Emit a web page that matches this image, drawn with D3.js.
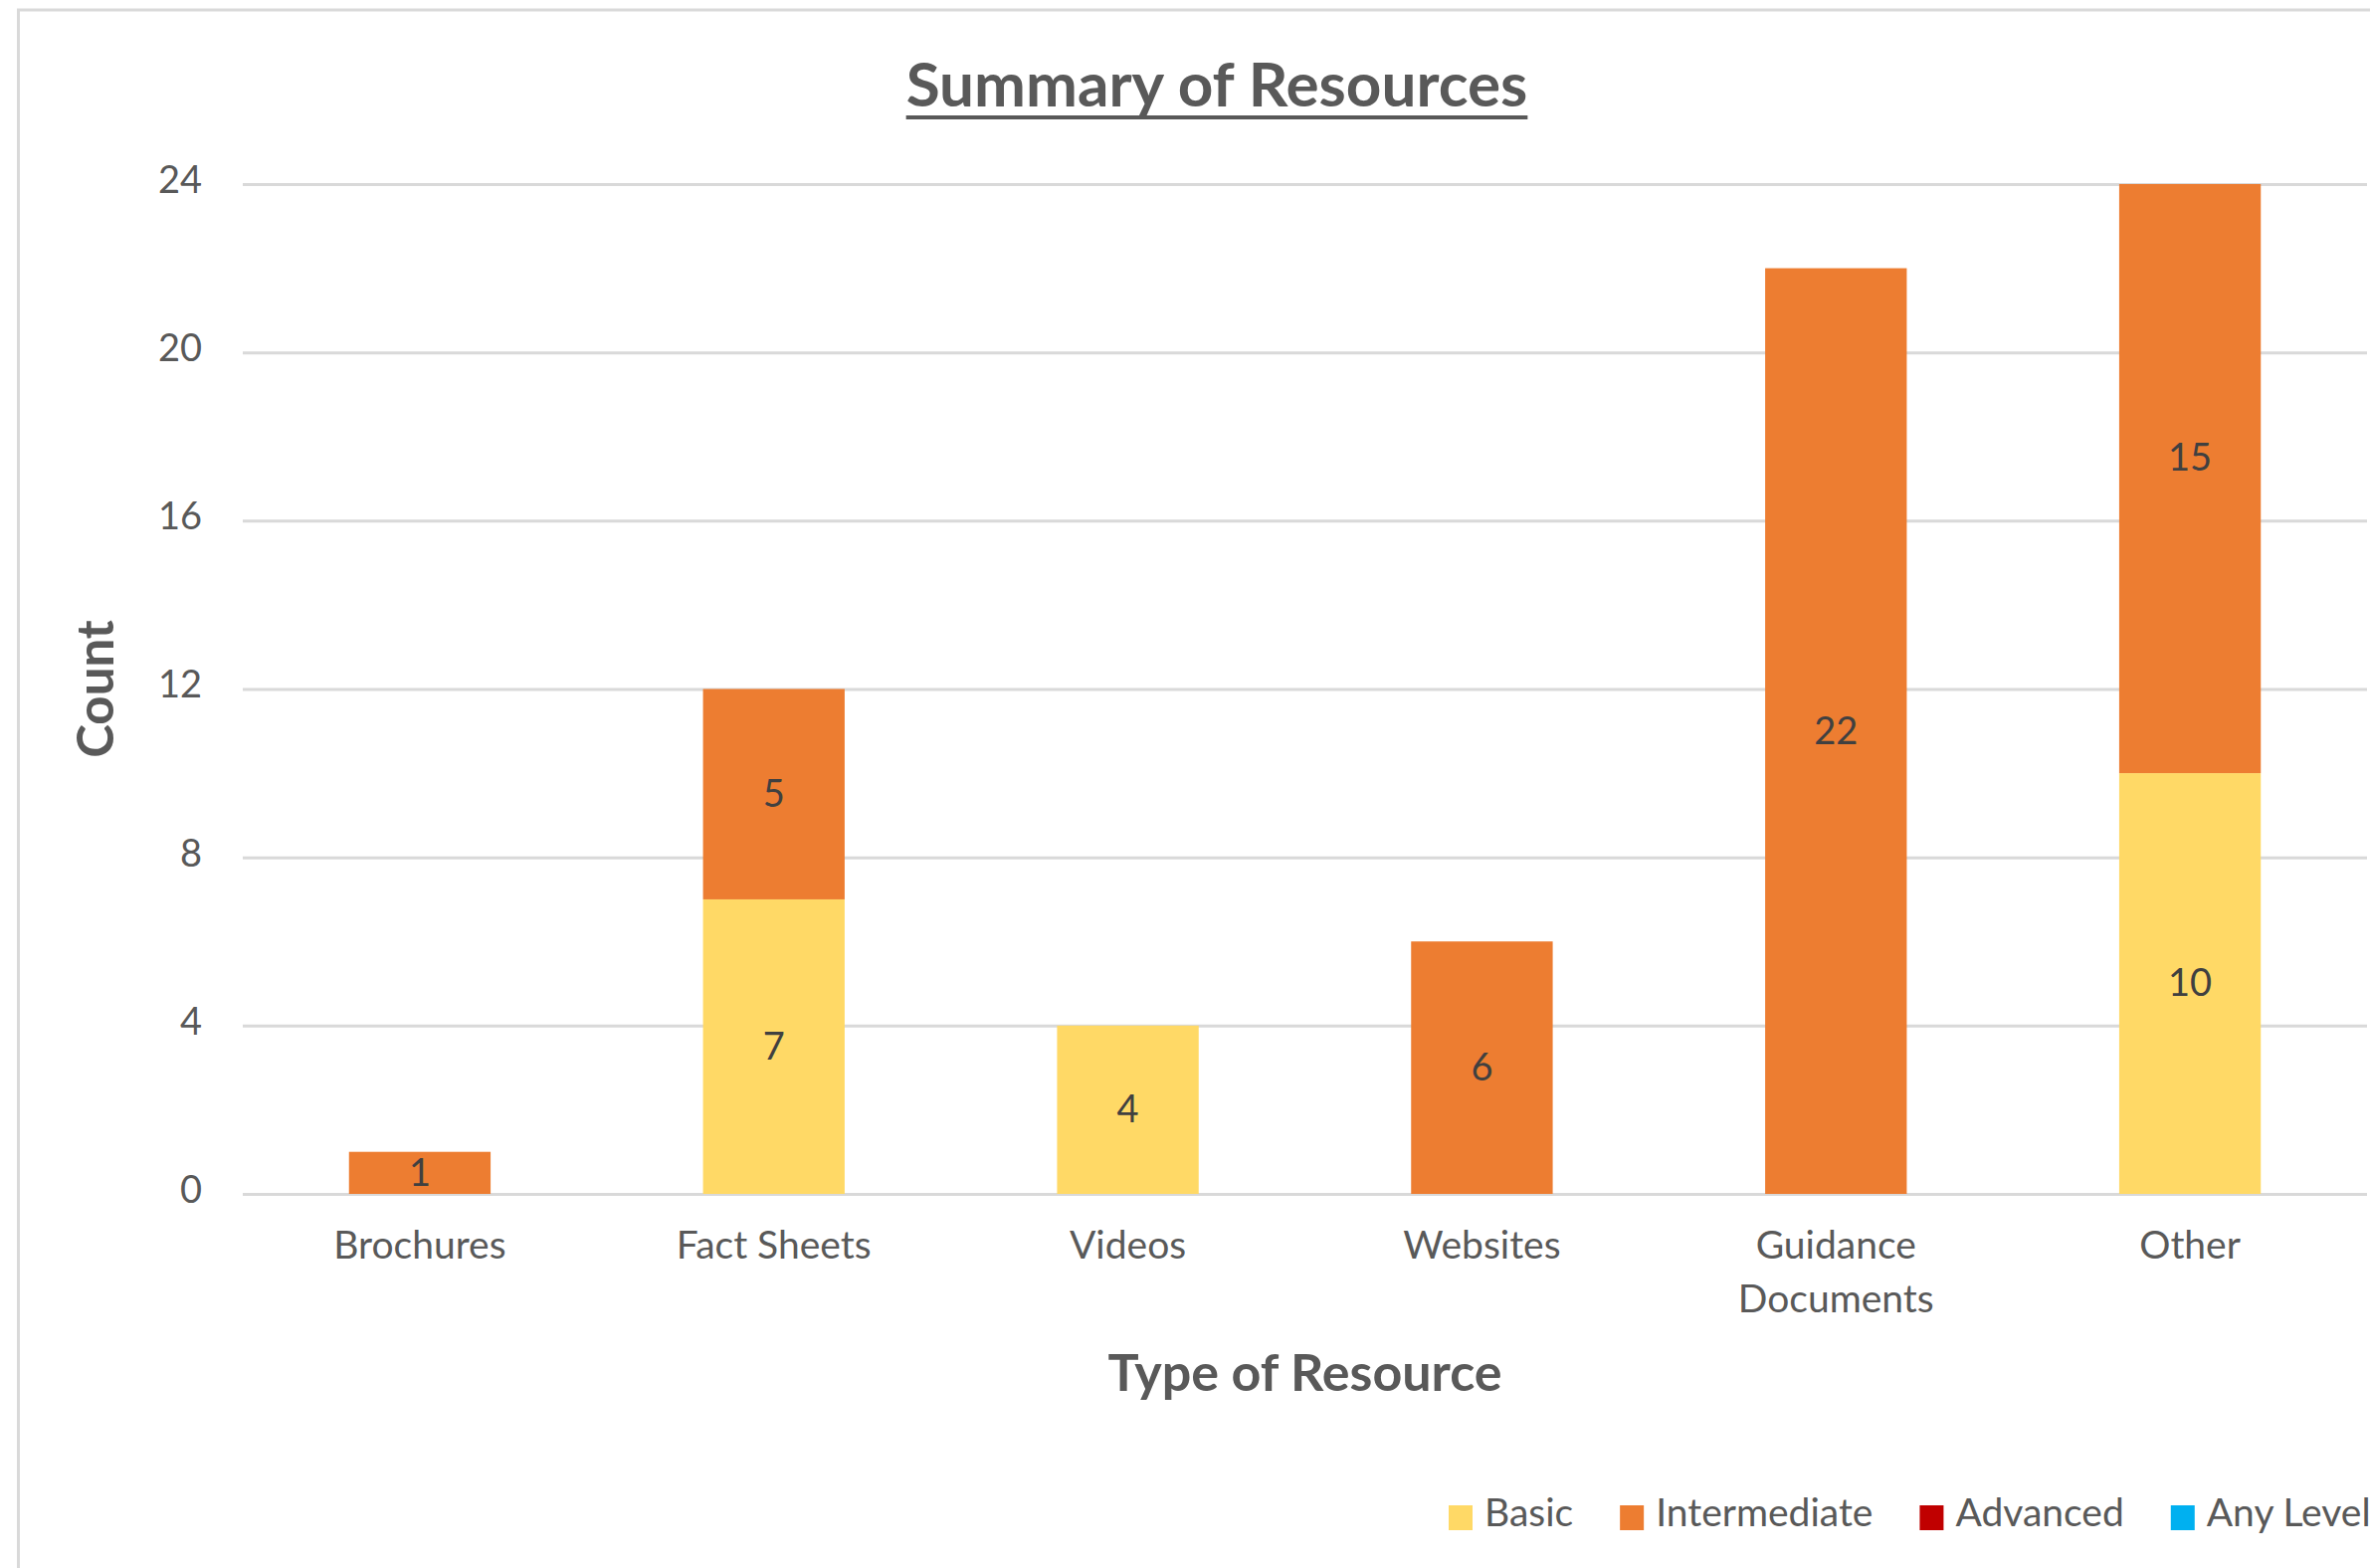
<!DOCTYPE html>
<html>
<head>
<meta charset="utf-8">
<script src="https://cdn.jsdelivr.net/npm/d3@7.9.0/dist/d3.min.js"></script>
<style>
  html, body { margin: 0; padding: 0; background: #fff; }
  svg text { font-family: Lato, "Open Sans", sans-serif; }
</style>
</head>
<body>
<svg id="chart" width="2382" height="1576"></svg>
<script>
// data
const categories = ["Brochures", "Fact Sheets", "Videos", "Websites", "Guidance Documents", "Other"];
const levels = ["Basic", "Intermediate", "Advanced", "Any Level"];
const basic = [0, 7, 4, 0, 0, 10];
const intermediate = [1, 5, 0, 6, 22, 15];
const advanced = [0, 0, 0, 0, 0, 0];
const anyLevel = [0, 0, 0, 0, 0, 0];
const yTicks = [0, 4, 8, 12, 16, 20, 24];
const colors = ["#FFD966", "#ED7D31", "#C00000", "#00B0F0"];

const W = 2382, H = 1576;
const plot = { left: 244, right: 2379, top: 185, bottom: 1200 };

const svg = d3.select("#chart");

// outer chart border (runs off the right and bottom edges)
svg.append("rect")
  .attr("x", 18.5).attr("y", 10)
  .attr("width", W + 50).attr("height", H + 50)
  .attr("fill", "#fff")
  .attr("stroke", "#d9d9d9")
  .attr("stroke-width", 3);

const x = d3.scaleBand()
  .domain(categories)
  .range([plot.left, plot.right])
  .paddingInner(0.6)
  .paddingOuter(0.3);

const y = d3.scaleLinear()
  .domain([0, 24])
  .range([plot.bottom, plot.top]);

// gridlines
const grid = svg.append("g")
  .attr("transform", `translate(${plot.left},0)`)
  .call(d3.axisLeft(y).tickValues(yTicks).tickSize(-(plot.right - plot.left)).tickFormat(""));
grid.select(".domain").remove();
grid.selectAll("line").attr("stroke", "#d9d9d9").attr("stroke-width", 3);

// y tick labels
const yAxis = svg.append("g")
  .attr("transform", `translate(${plot.left},0)`)
  .call(d3.axisLeft(y).tickValues(yTicks).tickSize(0).tickPadding(41));
yAxis.select(".domain").remove();
yAxis.selectAll("text")
  .attr("font-family", "Lato")
  .attr("font-size", 38)
  .attr("fill", "#595959")
  .attr("dy", "0.22em");

// stacked bars
const rows = categories.map((c, i) => ({
  category: c,
  Basic: basic[i],
  Intermediate: intermediate[i],
  Advanced: advanced[i],
  "Any Level": anyLevel[i]
}));
const stacked = d3.stack().keys(levels)(rows);

svg.append("clipPath").attr("id", "plot-clip")
  .append("rect")
  .attr("x", plot.left).attr("y", plot.top)
  .attr("width", plot.right - plot.left)
  .attr("height", plot.bottom - plot.top);

const bars = svg.append("g").attr("clip-path", "url(#plot-clip)");
stacked.forEach((series, si) => {
  bars.selectAll(null)
    .data(series.filter(d => d[1] - d[0] > 0))
    .enter()
    .append("rect")
    .attr("x", d => x(d.data.category))
    .attr("width", x.bandwidth())
    .attr("y", d => y(d[1]))
    .attr("height", d => y(d[0]) - y(d[1]))
    .attr("fill", colors[si]);
});

// data labels (centred in the full segment)
const labels = svg.append("g");
stacked.forEach(series => {
  labels.selectAll(null)
    .data(series.filter(d => d[1] - d[0] > 0))
    .enter()
    .append("text")
    .attr("x", d => x(d.data.category) + x.bandwidth() / 2)
    .attr("y", d => y((d[0] + d[1]) / 2))
    .attr("dy", "0.34em")
    .attr("text-anchor", "middle")
    .attr("font-size", 38)
    .attr("fill", "#404040")
    .text(d => d[1] - d[0]);
});

// x category labels, wrapped to the band step
const xLabels = svg.append("g");
categories.forEach(c => {
  const t = xLabels.append("text")
    .attr("x", x(c) + x.bandwidth() / 2)
    .attr("y", plot.bottom + 65)
    .attr("text-anchor", "middle")
    .attr("font-size", 39)
    .attr("fill", "#595959")
    .text(c);
  if (t.node().getComputedTextLength() > x.step() * 0.95) {
    const words = c.split(" ");
    t.text(null);
    words.forEach((w, i) => {
      t.append("tspan")
        .attr("x", x(c) + x.bandwidth() / 2)
        .attr("dy", i === 0 ? 0 : 54)
        .text(w);
    });
  }
});

// title
const title = svg.append("text")
  .attr("x", 1223)
  .attr("y", 107)
  .attr("text-anchor", "middle")
  .attr("font-size", 62)
  .attr("font-weight", 700)
  .attr("fill", "#595959")
  .text("Summary of Resources");
const tb = title.node().getBBox();
svg.append("line")
  .attr("x1", tb.x).attr("x2", tb.x + tb.width)
  .attr("y1", 118).attr("y2", 118)
  .attr("stroke", "#595959")
  .attr("stroke-width", 4);

// axis titles
svg.append("text")
  .attr("x", (plot.left + plot.right) / 2)
  .attr("y", 1398)
  .attr("text-anchor", "middle")
  .attr("font-size", 52)
  .attr("font-weight", 700)
  .attr("fill", "#595959")
  .text("Type of Resource");

svg.append("text")
  .attr("transform", `translate(114,${(plot.top + plot.bottom) / 2}) rotate(-90)`)
  .attr("text-anchor", "middle")
  .attr("font-size", 51)
  .attr("font-weight", 700)
  .attr("fill", "#595959")
  .text("Count");

// legend
const legend = svg.append("g");
let lx = 1456;
levels.forEach((lv, i) => {
  legend.append("rect")
    .attr("x", lx).attr("y", 1513)
    .attr("width", 24).attr("height", 25)
    .attr("fill", colors[i]);
  const t = legend.append("text")
    .attr("x", lx + 36)
    .attr("y", 1534)
    .attr("font-size", 39)
    .attr("fill", "#595959")
    .text(lv);
  lx = lx + 36 + t.node().getComputedTextLength() + 47;
});
</script>
</body>
</html>
